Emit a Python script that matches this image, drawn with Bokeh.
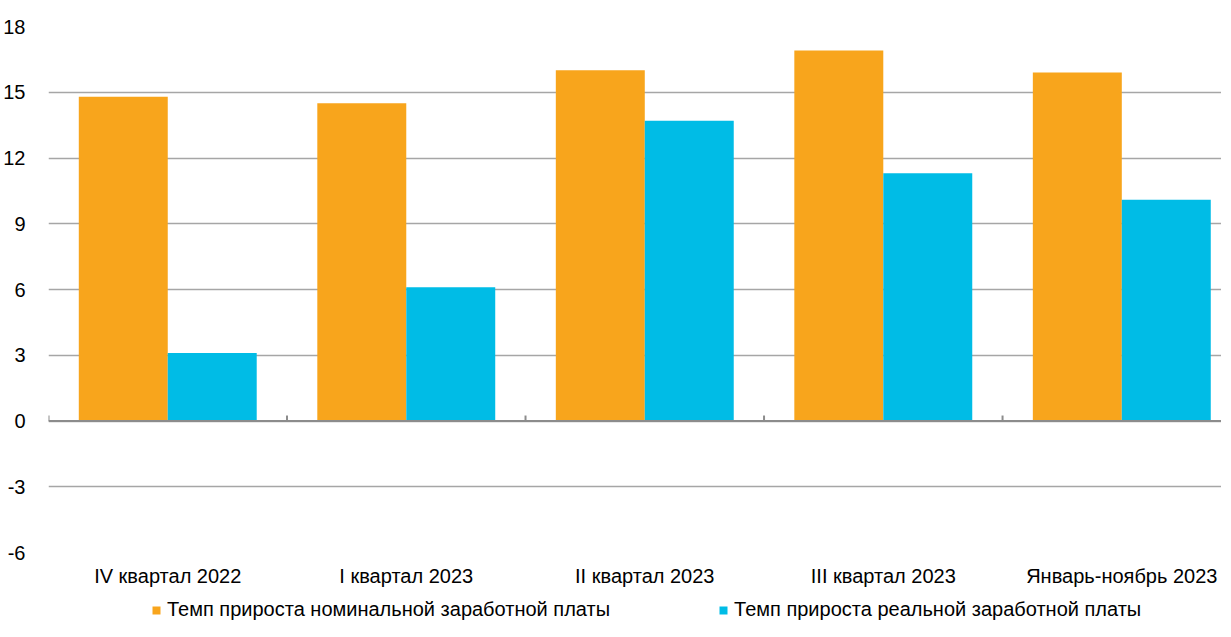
import numpy as np
from bokeh.plotting import figure
from bokeh.layouts import column
from bokeh.models import (Range1d, FixedTicker, Span, Legend, LegendItem)
from bokeh.embed import file_html
from bokeh.resources import INLINE

categories = ["IV квартал 2022", "I квартал 2023", "II квартал 2023",
              "III квартал 2023", "Январь-ноябрь 2023"]
nominal = [14.8, 14.5, 16.0, 16.9, 15.9]
real = [3.1, 6.1, 13.7, 11.3, 10.1]
series_names = ["Темп прироста номинальной заработной платы",
                "Темп прироста реальной заработной платы"]
y_ticks = [-6, -3, 0, 3, 6, 9, 12, 15, 18]

ORANGE = "#F8A51C"
BLUE = "#00BCE6"
FONT = "Liberation Sans"

idx = np.arange(len(categories))
centers = idx + 0.5
bw = 0.373

p = figure(frame_width=1173, frame_height=526, output_backend="svg",
           toolbar_location=None,
           x_range=Range1d(0, 4.918), y_range=Range1d(y_ticks[0], y_ticks[-1]),
           min_border_left=42, min_border_right=0, min_border_top=26,
           min_border_bottom=0)
p.outline_line_color = None
p.background_fill_color = "white"

r1 = p.vbar(x=centers - bw / 2, top=nominal, width=bw, bottom=0,
            fill_color=ORANGE, line_color=None)
r2 = p.vbar(x=centers + bw / 2, top=real, width=bw, bottom=0,
            fill_color=BLUE, line_color=None)

# zero axis line and category boundary ticks
p.add_layout(Span(location=0, dimension="width", line_color="#8C8C8C", line_width=2))
bounds = np.arange(len(categories) + 1)
p.segment(x0=bounds, y0=np.zeros(len(bounds)), x1=bounds,
          y1=np.full(len(bounds), 0.25), line_color="#8C8C8C", line_width=2)

# y axis
p.yaxis.ticker = FixedTicker(ticks=y_ticks)
p.yaxis.major_label_overrides = {t: str(t) for t in y_ticks}
p.yaxis.axis_line_color = None
p.yaxis.major_tick_line_color = None
p.yaxis.minor_tick_line_color = None
p.yaxis.major_label_standoff = 17
p.yaxis.major_label_text_font = FONT
p.yaxis.major_label_text_font_size = "20px"
p.yaxis.major_label_text_color = "#000000"

p.ygrid.ticker = FixedTicker(ticks=y_ticks)
p.ygrid.grid_line_color = "#A6A6A6"
p.ygrid.grid_line_width = 1.5
p.xgrid.grid_line_color = None

# x axis (labels low)
p.xaxis.ticker = FixedTicker(ticks=list(centers))
p.xaxis.major_label_overrides = {float(c): n for c, n in zip(centers, categories)}
p.xaxis.axis_line_color = None
p.xaxis.major_tick_line_color = None
p.xaxis.minor_tick_line_color = None
p.xaxis.major_tick_out = 0
p.xaxis.major_tick_in = 0
p.xaxis.major_label_standoff = 12
p.xaxis.major_label_text_font = FONT
p.xaxis.major_label_text_font_size = "20px"
p.xaxis.major_label_text_color = "#000000"

# legend strip below the chart (proxy glyphs lie outside the visible range)
pl = figure(width=1215, height=32, output_backend="svg", toolbar_location=None,
            x_axis_type=None, y_axis_type=None,
            x_range=Range1d(0, 1), y_range=Range1d(0, 1),
            min_border_left=0, min_border_right=0, min_border_top=0,
            min_border_bottom=0)
pl.outline_line_color = None
pl.xgrid.grid_line_color = None
pl.ygrid.grid_line_color = None
l1 = pl.vbar(x=[-5], top=[-5], bottom=[-6], width=0.1,
             fill_color=ORANGE, line_color=None)
l2 = pl.vbar(x=[-5], top=[-5], bottom=[-6], width=0.1,
             fill_color=BLUE, line_color=None)

legend = Legend(items=[LegendItem(label=series_names[0], renderers=[l1]),
                       LegendItem(label=series_names[1], renderers=[l2])],
                orientation="horizontal", location=(103, 0),
                label_text_font=FONT, label_text_font_size="20px",
                label_text_color="#000000", glyph_width=10, glyph_height=10,
                label_height=20, label_standoff=6, spacing=108,
                border_line_color=None,
                background_fill_alpha=0, padding=2, margin=0)
pl.add_layout(legend, "center")

open("out.html", "w").write(file_html(column(p, pl, spacing=0), INLINE))
